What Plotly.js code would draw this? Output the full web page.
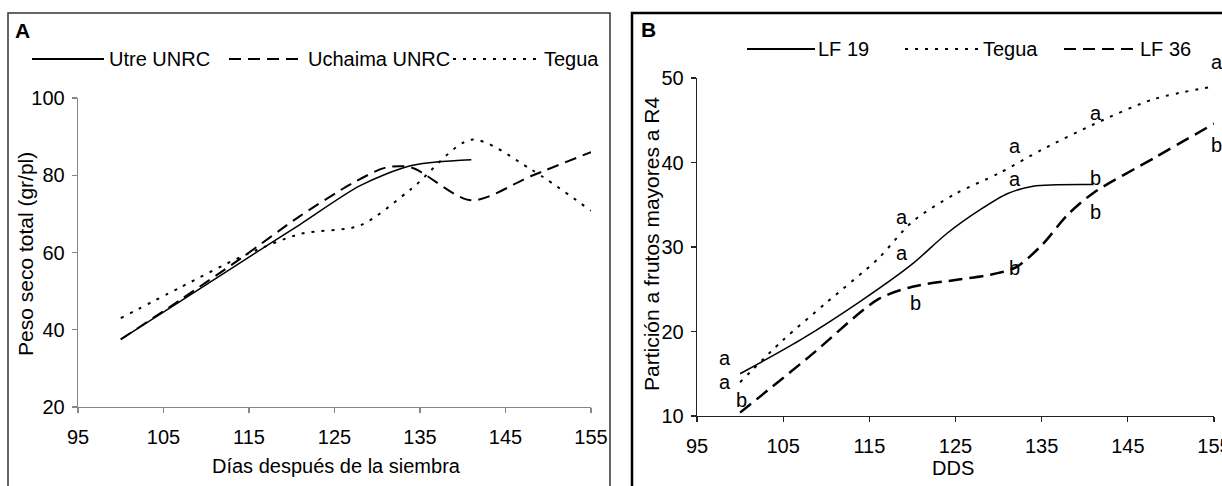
<!DOCTYPE html>
<html><head><meta charset="utf-8">
<script src="https://cdn.plot.ly/plotly-3.0.1.min.js"></script>
<style>html,body{margin:0;padding:0;background:#fff}#chart{width:1222px;height:486px}</style>
</head><body><div id="chart"></div>
<script>
// ---- Panel A data: Peso seco total (gr/pl) vs días después de la siembra ----
const daysUtre = [100, 107, 114, 121, 128, 134, 141];
const utre = [37.5, 47.4, 57.4, 67.3, 77.3, 82.5, 84];
const daysUchaima = [100, 107, 114, 121, 127, 131, 134, 141, 148, 155];
const uchaima = [37.5, 47.8, 58.4, 69.5, 77.8, 82, 82, 73.5, 79.8, 86];
const daysTeguaA = [100, 107, 114, 121, 128, 134, 141, 148, 155];
const teguaA = [43, 51, 58.8, 64.8, 67, 76.5, 89.2, 81.5, 70.8];

// ---- Panel B data: Partición a frutos mayores a R4 vs DDS ----
const daysLF19 = [100, 107, 114, 120, 124, 128, 131, 134, 141];
const lf19 = [15, 19, 23.6, 28, 31.6, 34.5, 36.3, 37.2, 37.4];
const daysTeguaB = [100, 105, 110, 116, 120, 125, 130, 135, 141, 148, 155];
const teguaB = [14, 19, 23.4, 28.6, 33, 36.3, 38.7, 41.5, 44.5, 47.5, 49];
const daysLF36 = [100, 108, 116, 120, 125, 129, 132, 135, 138, 141, 148, 155];
const lf36 = [10.4, 17, 23.8, 25.3, 26.1, 26.7, 27.6, 30.2, 33.8, 36.4, 40.5, 44.6];

// significance letters (panel B)
const sigDays = [98.3, 98.3, 100.2, 118.8, 118.8, 120.3, 131.9, 131.9, 131.9, 141.3, 141.3, 141.3, 155.3, 155.3];
const sigVals = [16.9, 14, 11.9, 33.5, 29.3, 23.4, 41.9, 38.1, 27.5, 45.9, 38.2, 34.1, 51.9, 42.1];
const sigLetters = ['a', 'a', 'b', 'a', 'a', 'b', 'a', 'a', 'b', 'a', 'b', 'b', 'a', 'b'];

const xTicks = [95, 105, 115, 125, 135, 145, 155];

// ---- layout helpers (pixel -> paper) ----
const W = 1222, H = 486;
const px = v => v / W;
const py = v => 1 - v / H;
const FONT = 'Liberation Sans, Arial, sans-serif';
const DOT = '3px,7px', DASH = '12px,7px';

// panel pixel frames
const A_X = [78, 591], A_Y = [407, 98];
const B_X = [697, 1214], B_Y = [416, 78];
const XR = [95, 155], YRA = [20, 100], YRB = [10, 50];

const sp = {shape: 'spline', smoothing: 0.8};
const traces = [
  {x: daysUtre, y: utre, name: 'Utre UNRC', mode: 'lines', line: Object.assign({color: '#000', width: 1.5}, sp), xaxis: 'x', yaxis: 'y'},
  {x: daysUchaima, y: uchaima, name: 'Uchaima UNRC', mode: 'lines', line: Object.assign({color: '#000', width: 2, dash: DASH}, sp), xaxis: 'x', yaxis: 'y'},
  {x: daysTeguaA, y: teguaA, name: 'Tegua', mode: 'lines', line: Object.assign({color: '#000', width: 2, dash: DOT}, sp), xaxis: 'x', yaxis: 'y'},
  {x: daysLF19, y: lf19, name: 'LF 19', mode: 'lines', line: Object.assign({color: '#000', width: 1.5}, sp), xaxis: 'x2', yaxis: 'y2'},
  {x: daysTeguaB, y: teguaB, name: 'Tegua', mode: 'lines', line: Object.assign({color: '#000', width: 2, dash: DOT}, sp), xaxis: 'x2', yaxis: 'y2'},
  {x: daysLF36, y: lf36, name: 'LF 36', mode: 'lines', line: Object.assign({color: '#000', width: 2.5, dash: '14px,7px'}, sp), xaxis: 'x2', yaxis: 'y2'}
];
traces.forEach(t => t.showlegend = false);

function axisX(domain, anchor, col) {
  return {domain: domain, anchor: anchor, range: XR, tickmode: 'array', tickvals: xTicks,
    ticktext: xTicks.map(String), showline: true, linecolor: col, linewidth: 1.3, ticks: 'outside',
    ticklen: 5, tickcolor: col, tickwidth: 1.3, showgrid: false, zeroline: false,
    ticklabelstandoff: 7, ticklabeloverflow: 'allow',
    tickfont: {family: FONT, size: 20, color: '#000'}, fixedrange: true};
}
function axisY(domain, anchor, range, dtick, col) {
  return {domain: domain, anchor: anchor, range: range, tick0: range[0], dtick: dtick,
    showline: true, linecolor: col, linewidth: 1.3, ticks: 'outside', ticklen: 5, tickcolor: col,
    tickwidth: 1.3, showgrid: false, zeroline: false, ticklabelstandoff: 3, ticklabeloverflow: 'allow',
    tickfont: {family: FONT, size: 20, color: '#000'}, fixedrange: true};
}

const shapes = [
  {type: 'rect', xref: 'paper', yref: 'paper', x0: px(8), x1: px(610), y0: py(500), y1: py(13), line: {color: '#333', width: 1.5}},
  {type: 'rect', xref: 'paper', yref: 'paper', x0: px(632), x1: px(1240), y0: py(500), y1: py(13), line: {color: '#000', width: 2.5}},
  // legend A
  {type: 'line', xref: 'paper', yref: 'paper', x0: px(32), x1: px(104), y0: py(59), y1: py(59), line: {color: '#000', width: 2}},
  {type: 'line', xref: 'paper', yref: 'paper', x0: px(229), x1: px(305), y0: py(59), y1: py(59), line: {color: '#000', width: 2, dash: DASH}},
  {type: 'line', xref: 'paper', yref: 'paper', x0: px(453), x1: px(541), y0: py(59), y1: py(59), line: {color: '#000', width: 2, dash: DOT}},
  // legend B
  {type: 'line', xref: 'paper', yref: 'paper', x0: px(747), x1: px(815), y0: py(49), y1: py(49), line: {color: '#000', width: 2}},
  {type: 'line', xref: 'paper', yref: 'paper', x0: px(905), x1: px(980), y0: py(49), y1: py(49), line: {color: '#000', width: 2, dash: DOT}},
  {type: 'line', xref: 'paper', yref: 'paper', x0: px(1064), x1: px(1136), y0: py(49), y1: py(49), line: {color: '#000', width: 2, dash: DASH}}
];

function ann(text, x, y, opts) {
  return Object.assign({text: text, xref: 'paper', yref: 'paper', x: px(x), y: py(y), showarrow: false,
    xanchor: 'left', yanchor: 'middle', font: {family: FONT, size: 20, color: '#000'}}, opts || {});
}
const annotations = [
  ann('<b>A</b>', 13, 30, {font: {family: FONT, size: 21, color: '#000'}}),
  ann('<b>B</b>', 639, 29, {font: {family: FONT, size: 21, color: '#000'}}),
  ann('Utre UNRC', 107, 59),
  ann('Uchaima UNRC', 306, 59),
  ann('Tegua', 542, 59),
  ann('LF 19', 816, 49),
  ann('Tegua', 981, 49),
  ann('LF 36', 1138, 49),
  ann('Peso seco total (gr/pl)', 26, 254, {textangle: -90, xanchor: 'center', font: {family: FONT, size: 21, color: '#000'}}),
  ann('Días después de la siembra', 336, 466, {xanchor: 'center'}),
  ann('Partición a frutos mayores a R4', 651, 244, {textangle: -90, xanchor: 'center', font: {family: FONT, size: 21, color: '#000'}}),
  ann('DDS', 953, 468, {xanchor: 'center'})
];
// significance letters anchored in panel B data coordinates; letters lying just past the axis
// range are anchored at the range edge and pushed out with a pixel shift from the axis scale
const bxScale = (B_X[1] - B_X[0]) / (XR[1] - XR[0]);
const byScale = (B_Y[0] - B_Y[1]) / (YRB[1] - YRB[0]);
const clamp = (v, r) => Math.min(Math.max(v, r[0]), r[1]);
sigLetters.forEach((t, i) => {
  const cx = clamp(sigDays[i], XR), cy = clamp(sigVals[i], YRB);
  annotations.push({text: t, xref: 'x2', yref: 'y2', x: cx, y: cy,
    xshift: (sigDays[i] - cx) * bxScale, yshift: (sigVals[i] - cy) * byScale,
    showarrow: false, xanchor: 'center', yanchor: 'middle', font: {family: FONT, size: 20, color: '#000'}});
});

const layout = {
  width: W, height: H, margin: {l: 0, r: 0, t: 0, b: 0}, paper_bgcolor: '#fff', plot_bgcolor: 'rgba(0,0,0,0)',
  font: {family: FONT, color: '#000'}, showlegend: false,
  xaxis: axisX([px(A_X[0]), px(A_X[1])], 'y', '#868686'),
  yaxis: axisY([py(A_Y[0]), py(A_Y[1])], 'x', YRA, 20, '#868686'),
  xaxis2: axisX([px(B_X[0]), px(B_X[1])], 'y2', '#222'),
  yaxis2: axisY([py(B_Y[0]), py(B_Y[1])], 'x2', YRB, 10, '#222'),
  shapes: shapes, annotations: annotations
};
Plotly.newPlot('chart', traces, layout, {staticPlot: true, displayModeBar: false});
</script></body></html>
